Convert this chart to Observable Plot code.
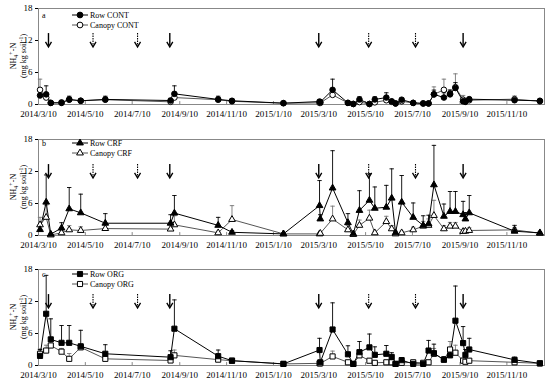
<!DOCTYPE html>
<html><head><meta charset="utf-8">
<script src="https://cdn.jsdelivr.net/npm/d3@7"></script>
<script src="https://cdn.jsdelivr.net/npm/@observablehq/plot@0.6"></script>
<style>
html,body{margin:0;padding:0;background:#fff;}
#chart{width:550px;height:385px;overflow:hidden;}
#chart svg{display:block;}
</style></head>
<body><div id="chart"></div>
<script>
// ---- data ----
const sampleDates = [
  "2014-03-12","2014-03-20","2014-03-26","2014-04-09","2014-04-19","2014-05-04","2014-06-05",
  "2014-08-29","2014-09-03","2014-10-30","2014-11-17","2015-01-23",
  "2015-03-11","2015-03-12","2015-03-28","2015-04-17","2015-04-24","2015-05-02","2015-05-15",
  "2015-05-22","2015-06-06","2015-06-13","2015-06-18","2015-06-26","2015-07-11","2015-07-24",
  "2015-07-31","2015-08-07","2015-08-20","2015-08-28","2015-09-04","2015-09-14","2015-09-17",
  "2015-09-22","2015-11-20","2015-12-23"
];
const xTickLabels = ["2014/3/10","2014/5/10","2014/7/10","2014/9/10","2014/11/10","2015/1/10",
  "2015/3/10","2015/5/10","2015/7/10","2015/9/10","2015/11/10"];
const yTicks = [0, 6, 12, 18];

// fertilization arrows (solid = true, dotted = false)
const arrowDates = ["2014-03-23","2014-05-20","2014-07-17","2014-08-28","2015-03-10","2015-05-14","2015-07-14","2015-09-14"];
const arrowSolid = [true, false, false, true, true, false, false, true];
const arrowTop = 13.3, arrowTip = 10.8;

// Panel a: CONT
const contRow =       [1.7,1.9,0.3,0.3,0.95,0.7,0.95,0.75,2.0,0.95,0.7,0.25, 0.55,0.45,2.75,0.3,0.1,0.95,0.1,0.95,1.3,0.6,0.2,0.9,0.3,0.2,0.2,1.9,1.3,1.9,3.1,0.6,0.5,1.0,0.8,0.7];
const contRowErr =    [0.7,1.6,0.2,0.2,0.6,0.3,0.6,0.4,1.5,0.6,0.4,0.1, 0.3,0.2,2.0,0.2,0.1,0.5,0.1,0.5,0.9,0.3,0.1,0.3,0.1,0.1,0.1,0.8,0.9,0.8,1.0,0.5,0.3,0.3,0.4,0.2];
const contCanopy =    [2.75,1.3,0.3,0.4,0.9,0.7,0.9,0.5,1.3,0.9,0.6,0.25, 0.3,0.3,1.8,0.3,0.1,0.45,0.1,0.4,0.8,0.5,0.2,0.6,0.3,0.2,0.2,1.9,2.75,2.0,3.25,0.9,0.6,0.8,1.0,0.6];
const contCanopyErr = [2.0,0.6,0.2,0.2,0.4,0.3,0.4,0.3,0.8,0.3,0.3,0.1, 0.2,0.2,0.8,0.1,0.1,0.3,0.1,0.2,0.4,0.3,0.1,0.2,0.1,0.1,0.1,1.4,2.0,0.7,2.5,0.8,0.3,0.3,0.6,0.2];

// Panel b: CRF
const crfRow =        [1.1,6.25,0.25,1.4,5.0,4.25,2.3,2.3,4.2,1.9,0.6,0.3, 5.6,3.1,8.9,2.4,0.3,4.7,6.6,5.1,5.3,7.0,0.5,6.25,3.4,1.9,2.2,9.5,3.6,4.5,4.5,3.9,3.1,4.25,0.8,0.5];
const crfRowErr =     [0.9,5.1,0.2,1.0,4.0,3.5,1.8,1.6,3.3,1.5,0.3,0.2, 4.7,0.8,7.0,1.7,0.2,3.7,5.0,4.0,4.1,5.5,0.3,5.0,2.7,1.8,1.6,7.4,2.3,3.75,3.75,2.5,1.2,3.25,1.1,0.2];
const crfCanopy =     [2.0,3.4,0.1,0.5,1.06,0.94,1.3,1.2,2.0,0.5,3.0,0.3, 0.3,0.4,3.1,1.06,0.2,1.9,3.25,0.5,2.6,1.25,0.3,0.5,1.06,1.75,1.9,3.75,1.25,1.75,1.75,0.75,0.8,0.94,1.06,0.4];
const crfCanopyErr =  [1.4,2.3,0.1,0.4,0.8,0.7,0.8,0.8,1.7,0.3,2.6,0.1, 0.2,0.2,2.4,0.8,0.1,1.0,1.5,0.3,1.0,0.6,0.2,0.3,0.5,0.9,1.2,2.85,0.6,0.7,0.7,0.4,0.4,0.5,0.4,0.2];

// Panel c: ORG
const orgRow =        [1.8,9.7,4.9,4.25,4.25,3.6,2.2,1.56,6.9,1.75,0.9,0.3, 2.9,0.6,6.75,2.1,0.3,2.5,3.4,2.0,2.2,1.6,0.3,1.0,0.3,0.3,2.8,2.3,1.1,1.9,8.4,4.2,2.0,3.0,1.06,0.4];
const orgRowErr =     [1.2,7.2,3.85,3.25,3.25,3.0,1.7,1.2,5.4,1.15,0.4,0.1, 2.2,0.3,5.0,1.6,0.2,2.0,2.5,1.5,1.55,0.8,0.1,0.5,0.2,0.2,1.9,1.7,0.5,1.0,6.5,3.1,1.0,2.1,0.5,0.1];
const orgCanopy =     [2.2,2.8,3.75,2.6,1.25,3.4,1.25,0.94,1.9,1.1,0.9,0.3, 0.4,0.4,1.7,0.6,0.3,1.9,0.9,0.5,0.6,0.6,0.3,0.5,0.6,0.5,0.6,2.2,1.1,3.0,2.4,0.9,0.7,0.9,0.6,0.4];
const orgCanopyErr =  [0.9,1.0,1.0,0.6,1.0,0.5,1.0,0.8,1.0,0.6,0.4,0.1, 0.2,0.2,1.0,0.3,0.1,0.6,0.4,0.3,0.3,0.3,0.1,0.3,0.3,0.3,0.3,1.0,0.5,1.5,1.4,0.5,0.3,0.4,0.3,0.1];

// ---- helpers ----
const parseD = s => new Date(s + "T00:00:00Z");
const parseTick = s => { const [y, m, d] = s.split("/").map(Number); return new Date(Date.UTC(y, m - 1, d)); };
const fmtTick = d => `${d.getUTCFullYear()}/${d.getUTCMonth() + 1}/${d.getUTCDate()}`;
const tickDates = xTickLabels.map(parseTick);
const arrows = arrowDates.map((d, i) => ({date: parseD(d), solid: arrowSolid[i]}));

const capSymbol = {draw(ctx) { ctx.moveTo(-2.2, 0); ctx.lineTo(2.2, 0); }};
const chevron = {draw(ctx) { ctx.moveTo(-3, -5); ctx.lineTo(0, 0); ctx.lineTo(3, -5); }};
const FONT = "'Liberation Serif', 'Times New Roman', serif";

function makePanel(cfg) {
  const rows = sampleDates.map((d, i) => ({
    date: parseD(d),
    row: cfg.row[i], rowTop: cfg.row[i] + cfg.rowErr[i],
    can: cfg.canopy[i], canTop: cfg.canopy[i] + cfg.canopyErr[i]
  }));
  const mL = 38;
  const svg = Plot.plot({
    width: 550, height: cfg.height,
    marginLeft: mL, marginRight: 6, marginTop: cfg.marginTop, marginBottom: cfg.marginBottom,
    style: {fontFamily: FONT, fontSize: "9px", background: "white", color: "black", overflow: "visible"},
    x: {type: "utc", domain: [parseD("2014-03-10"), parseD("2015-12-29")], ticks: tickDates,
        tickFormat: fmtTick, tickSize: 0, tickPadding: 6, label: null},
    y: {domain: [0, 18], ticks: yTicks, tickSize: 3, tickPadding: 3, label: null},
    marks: [
      Plot.frame({stroke: "#888"}),
      Plot.ruleX(tickDates, {y1: 0, y2: 0.55, stroke: "#888"}),
      Plot.ruleX(arrows.filter(d => d.solid), {x: "date", y1: arrowTop, y2: arrowTip + 0.15, stroke: "black", strokeWidth: 1.4}),
      Plot.ruleX(arrows.filter(d => !d.solid), {x: "date", y1: arrowTop, y2: arrowTip + 0.15, stroke: "black", strokeWidth: 1.1, strokeDasharray: "1.4,1.1"}),
      Plot.dot(arrows, {x: "date", y: arrowTip, symbol: chevron, stroke: "black", fill: "none", strokeWidth: 1.3}),
      Plot.ruleX(rows, {x: "date", y1: "can", y2: "canTop", stroke: "#777", strokeWidth: 0.9}),
      Plot.dot(rows, {x: "date", y: "canTop", symbol: capSymbol, stroke: "#777", fill: "none", strokeWidth: 0.9}),
      Plot.ruleX(rows, {x: "date", y1: "row", y2: "rowTop", stroke: "black", strokeWidth: 0.9}),
      Plot.dot(rows, {x: "date", y: "rowTop", symbol: capSymbol, stroke: "black", fill: "none", strokeWidth: 0.9}),
      Plot.line(rows, {x: "date", y: "can", stroke: "#555", strokeWidth: 1}),
      Plot.line(rows, {x: "date", y: "row", stroke: "black", strokeWidth: 1}),
      Plot.dot(rows, {x: "date", y: "can", symbol: cfg.symbol, r: cfg.r, fill: "white", stroke: "black", strokeWidth: 1}),
      Plot.dot(rows, {x: "date", y: "row", symbol: cfg.symbol, r: cfg.r, fill: "black", stroke: "black", strokeWidth: 1})
    ]
  });
  const s = d3.select(svg);
  const top = cfg.marginTop, bottom = cfg.height - cfg.marginBottom;
  // panel letter
  s.append("text").attr("x", mL + 4).attr("y", top + cfg.legendDy).attr("dy", "0.35em")
    .attr("text-anchor", "start").attr("font-size", 8).attr("font-family", FONT).text(cfg.letter);
  // legend
  const sym = d3.symbol().type(cfg.d3symbol).size(cfg.legendSize);
  [[cfg.rowLabel, "black", "black"], [cfg.canopyLabel, "white", "#555"]].forEach(([label, fill, lineStroke], i) => {
    const y = top + cfg.legendDy + i * 10;
    s.append("line").attr("x1", 72).attr("x2", 88).attr("y1", y).attr("y2", y).attr("stroke", lineStroke);
    s.append("path").attr("d", sym()).attr("transform", `translate(80,${y})`).attr("fill", fill).attr("stroke", "black");
    s.append("text").attr("x", 90).attr("y", y).attr("dy", "0.35em").attr("font-size", 8)
      .attr("text-anchor", "start").attr("font-family", FONT).text(label);
  });
  // y-axis title
  const cy = (top + bottom) / 2;
  const t1 = s.append("text").attr("transform", `translate(16,${cy}) rotate(-90)`).attr("text-anchor", "middle")
    .attr("font-size", 8).attr("font-family", FONT);
  t1.append("tspan").text("NH");
  t1.append("tspan").attr("font-size", 6).attr("dy", 2).text("4");
  t1.append("tspan").attr("font-size", 6).attr("dy", -5).text("+");
  t1.append("tspan").attr("dy", 3).text("-N");
  const t2 = s.append("text").attr("transform", `translate(26,${cy}) rotate(-90)`).attr("text-anchor", "middle")
    .attr("font-size", 8).attr("font-family", FONT);
  t2.append("tspan").text("(mg kg soil");
  t2.append("tspan").attr("font-size", 6).attr("dy", -3).text("-1");
  t2.append("tspan").attr("dy", 3).text(")");
  return svg;
}

const chart = document.getElementById("chart");
chart.append(makePanel({row: contRow, rowErr: contRowErr, canopy: contCanopy, canopyErr: contCanopyErr,
  letter: "a", rowLabel: "Row CONT", canopyLabel: "Canopy CONT", symbol: "circle", d3symbol: d3.symbolCircle,
  r: 2.8, legendSize: 26, height: 131, marginTop: 8, marginBottom: 27, legendDy: 7}));
chart.append(makePanel({row: crfRow, rowErr: crfRowErr, canopy: crfCanopy, canopyErr: crfCanopyErr,
  letter: "b", rowLabel: "Row CRF", canopyLabel: "Canopy CRF", symbol: "triangle", d3symbol: d3.symbolTriangle,
  r: 2.5, legendSize: 20, height: 131, marginTop: 8, marginBottom: 27, legendDy: 4}));
chart.append(makePanel({row: orgRow, rowErr: orgRowErr, canopy: orgCanopy, canopyErr: orgCanopyErr,
  letter: "c", rowLabel: "Row ORG", canopyLabel: "Canopy ORG", symbol: "square", d3symbol: d3.symbolSquare,
  r: 2.9, legendSize: 26, height: 123, marginTop: 7, marginBottom: 20, legendDy: 5}));
</script>
</body></html>
